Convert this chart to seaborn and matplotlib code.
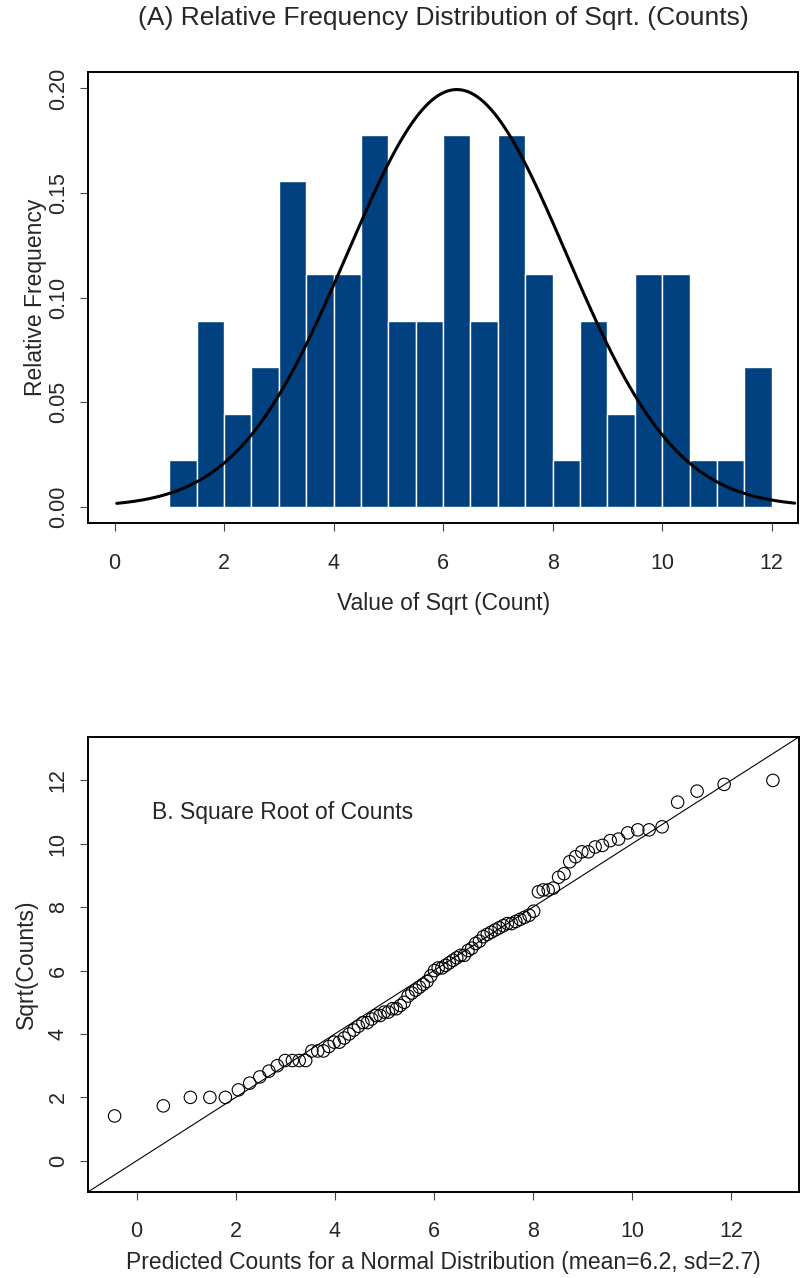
import numpy as np
import matplotlib
matplotlib.use("Agg")
import matplotlib.pyplot as plt
import seaborn as sns
from statistics import NormalDist

# Observed counts (sorted); both panels work on their square roots
counts = [2,
          3, 4, 4, 4,
          5, 6,
          7, 8, 9,
          10, 10, 10, 10, 12, 12, 12,
          13, 14, 14, 15, 16,
          17, 18, 19, 19, 20,
          21, 21, 22, 22, 23, 23, 24, 25,
          27, 28, 29, 30,
          31, 32, 34, 36,
          37, 37, 38, 39, 40, 41, 42, 42,
          44, 45, 47, 48,
          50, 51, 52, 53, 54, 55, 56, 56,
          57, 58, 59, 60, 62,
          72,
          73, 73, 74, 80,
          82, 89,
          92, 95, 95, 98, 99,
          102, 103, 107, 109, 109,
          111,
          128,
          136, 141, 144]

bin_edges = np.arange(1.0, 12.5, 0.5)
curve_mean, curve_sd = 6.25, 2.0      # overlaid normal density
qq_mean, qq_sd = 6.2, 2.7             # reference normal for the Q-Q panel

hist_xticks = [0, 2, 4, 6, 8, 10, 12]
hist_yticks = [0.00, 0.05, 0.10, 0.15, 0.20]
qq_ticks = [0, 2, 4, 6, 8, 10, 12]

bar_color = "#02417f"
LABEL_FS = 16.5
TICK_FS = 15.5
TITLE_FS = 19

sqrt_counts = np.sqrt(np.asarray(counts, dtype=float))

sns.set_style("white")
plt.rcParams["font.family"] = ["Liberation Sans", "DejaVu Sans"]
plt.rcParams["font.size"] = LABEL_FS

fig = plt.figure(figsize=(8.01, 12.78), dpi=100)
ax1 = fig.add_axes([0.1102, 0.5904, 0.886, 0.3535])
ax2 = fig.add_axes([0.1102, 0.0675, 0.8876, 0.356])

# ---- (A) histogram of sqrt counts with a normal curve ----
# edges nudged up slightly so that bins behave as right-closed intervals
sns.histplot(x=sqrt_counts, bins=bin_edges + 1e-9, stat="density",
             color=bar_color, edgecolor="white", linewidth=1.0, alpha=1.0,
             ax=ax1)
xs = np.linspace(0.04, 12.42, 400)
nd_curve = NormalDist(curve_mean, curve_sd)
ys = np.array([nd_curve.pdf(v) for v in xs])
sns.lineplot(x=xs, y=ys, color="black", linewidth=2.2, ax=ax1)

ax1.set_xlim(-0.48, 12.48)
ax1.set_ylim(-0.008, 0.208)
ax1.set_xticks(hist_xticks)
ax1.set_xticklabels([str(t) for t in hist_xticks])
ax1.set_yticks(hist_yticks)
ax1.set_yticklabels([f"{t:.2f}" for t in hist_yticks])
ax1.set_xlabel("Value of Sqrt (Count)", fontsize=LABEL_FS)
ax1.set_ylabel("Relative Frequency", fontsize=LABEL_FS)
ax1.xaxis.set_label_coords(0.5, -0.152)
ax1.yaxis.set_label_coords(-0.058, 0.5)
fig.text(0.553, 1 - 18 / 1278, "(A) Relative Frequency Distribution of Sqrt. (Counts)",
         ha="center", va="center", fontsize=TITLE_FS)

# ---- (B) normal Q-Q plot ----
n = len(sqrt_counts)
probs = (np.arange(1, n + 1) - 0.375) / (n + 0.25)
nd_qq = NormalDist(qq_mean, qq_sd)
theoretical = np.array([nd_qq.inv_cdf(p) for p in probs])
observed = np.sort(sqrt_counts)

sns.scatterplot(x=theoretical, y=observed, marker="o", s=80,
                facecolors="none", edgecolor="black", linewidth=0.8, ax=ax2)
for coll in ax2.collections:
    coll.set_facecolor("none")
ax2.axline((0, 0), slope=1, color="black", linewidth=0.8)

lo, hi = theoretical[0], theoretical[-1]
pad = 0.04 * (hi - lo)
ax2.set_xlim(lo - pad, hi + pad)
ax2.set_ylim(lo - pad, hi + pad)
ax2.set_xticks(qq_ticks)
ax2.set_yticks(qq_ticks)
ax2.set_xticklabels([str(t) for t in qq_ticks])
ax2.set_yticklabels([str(t) for t in qq_ticks])
ax2.text(0.3, 11.0, "B. Square Root of Counts", va="center", ha="left", fontsize=LABEL_FS)
ax2.set_xlabel(f"Predicted Counts for a Normal Distribution (mean={qq_mean:.1f}, sd={qq_sd:.1f})",
               fontsize=LABEL_FS)
ax2.set_ylabel("Sqrt(Counts)", fontsize=LABEL_FS)
ax2.xaxis.set_label_coords(0.5, -0.130)
ax2.yaxis.set_label_coords(-0.071, 0.5)

for ax in (ax1, ax2):
    for side in ("left", "right", "top", "bottom"):
        ax.spines[side].set_visible(True)
        ax.spines[side].set_color("black")
        ax.spines[side].set_linewidth(1.4)
    ax.tick_params(axis="both", direction="out", length=6, width=0.8,
                   color="#444444", labelsize=TICK_FS, left=True, bottom=True)
    ax.tick_params(axis="x", pad=15)
    ax.tick_params(axis="y", pad=8)
    for lab in ax.get_yticklabels():
        lab.set_rotation(90)
        lab.set_va("center")

fig.savefig("out.png", dpi=100)
